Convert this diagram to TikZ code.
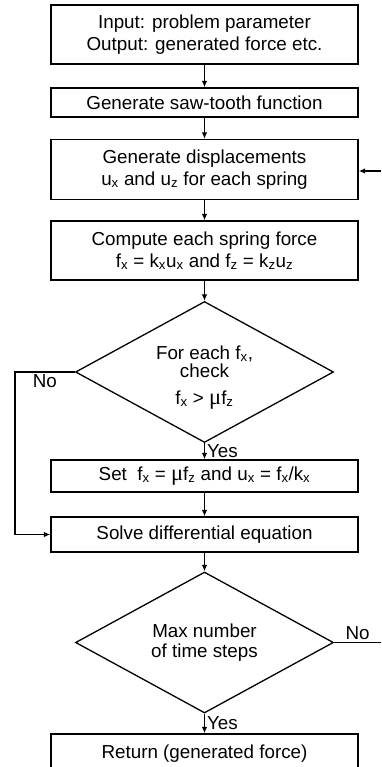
\documentclass[tikz,border=0pt]{standalone}
\usepackage{fontspec}
\setmainfont{Liberation Sans}
\newfontfamily\greekfont[Scale=1.2]{Liberation Serif}
\usetikzlibrary{shapes.geometric,arrows.meta}

\newcommand{\sbs}[1]{\textsubscript{#1}}
\newcommand{\mug}{{\greekfont μ}}

\begin{document}
\begin{tikzpicture}[x=1pt,y=-1pt,
    every node/.style={font=\fontsize{18.8}{22}\selectfont},
    box/.style={draw, line width=1.3pt, minimum width=307pt, inner sep=0pt, align=center},
    decision/.style={draw, diamond, aspect=2, line width=1.3pt, minimum width=258pt,
        minimum height=141pt, inner sep=0pt, align=center},
    arr/.style={line width=1.3pt, -{Latex[length=6.5pt,width=5.5pt]}},
    lbl/.style={inner sep=2pt}]
    \path[use as bounding box, clip] (0,0) rectangle (381,767);

    % process steps
    \node[box, minimum height=59pt] (io) at (204.5,34.5)
        {Input: problem parameter\\Output: generated force etc.};
    \node[box, minimum height=29pt] (saw) at (204.5,102.5) {Generate saw-tooth function};
    \node[box, minimum height=60pt] (disp) at (204.5,169.5)
        {Generate displacements\\u\sbs{x} and u\sbs{z} for each spring};
    \node[box, minimum height=59pt] (force) at (204.5,250.5)
        {Compute each spring force\\f\sbs{x} = k\sbs{x}u\sbs{x} and f\sbs{z} = k\sbs{z}u\sbs{z}};
    \node[decision] (check) at (204.5,372)
        {\rule{0pt}{24pt}For each f\sbs{x},\\[-4pt]check\\[5pt]f\sbs{x} > \mug f\sbs{z}};
    \node[box, minimum height=32pt] (slip) at (204.5,476)
        {Set~ f\sbs{x} = \mug f\sbs{z} and u\sbs{x} = f\sbs{x}/k\sbs{x}};
    \node[box, minimum height=35pt] (solve) at (204.5,534.5) {Solve differential equation};
    \node[decision] (steps) at (204.5,642.5) {Max number\\[-2pt]of time steps};
    \node[box, minimum height=40pt] (ret) at (204.5,754) {Return (generated force)};

    % free ends at the picture's edges
    \coordinate (nox) at (15,372);
    \coordinate (loopout) at (381,642.5);
    \coordinate (loopin) at (381,171);

    % connectors
    \draw[arr] (io) -- (saw);
    \draw[arr] (saw) -- (disp);
    \draw[arr] (disp) -- (force);
    \draw[arr] (force) -- (check);
    \draw[arr] (check) -- node[lbl, right] {Yes} (slip);
    \draw[arr] (slip) -- (solve);
    \draw[arr] (check.west) -- node[lbl, below] {No} (nox) |- (solve.west);
    \draw[arr] (solve) -- (steps);
    \draw[arr] (steps) -- node[lbl, right] {Yes} (ret);
    \draw[line width=1.3pt] (steps.east) -- node[lbl, above] {No} (loopout);
    \draw[arr] (loopin) -- (disp.east |- loopin);
\end{tikzpicture}
\end{document}
